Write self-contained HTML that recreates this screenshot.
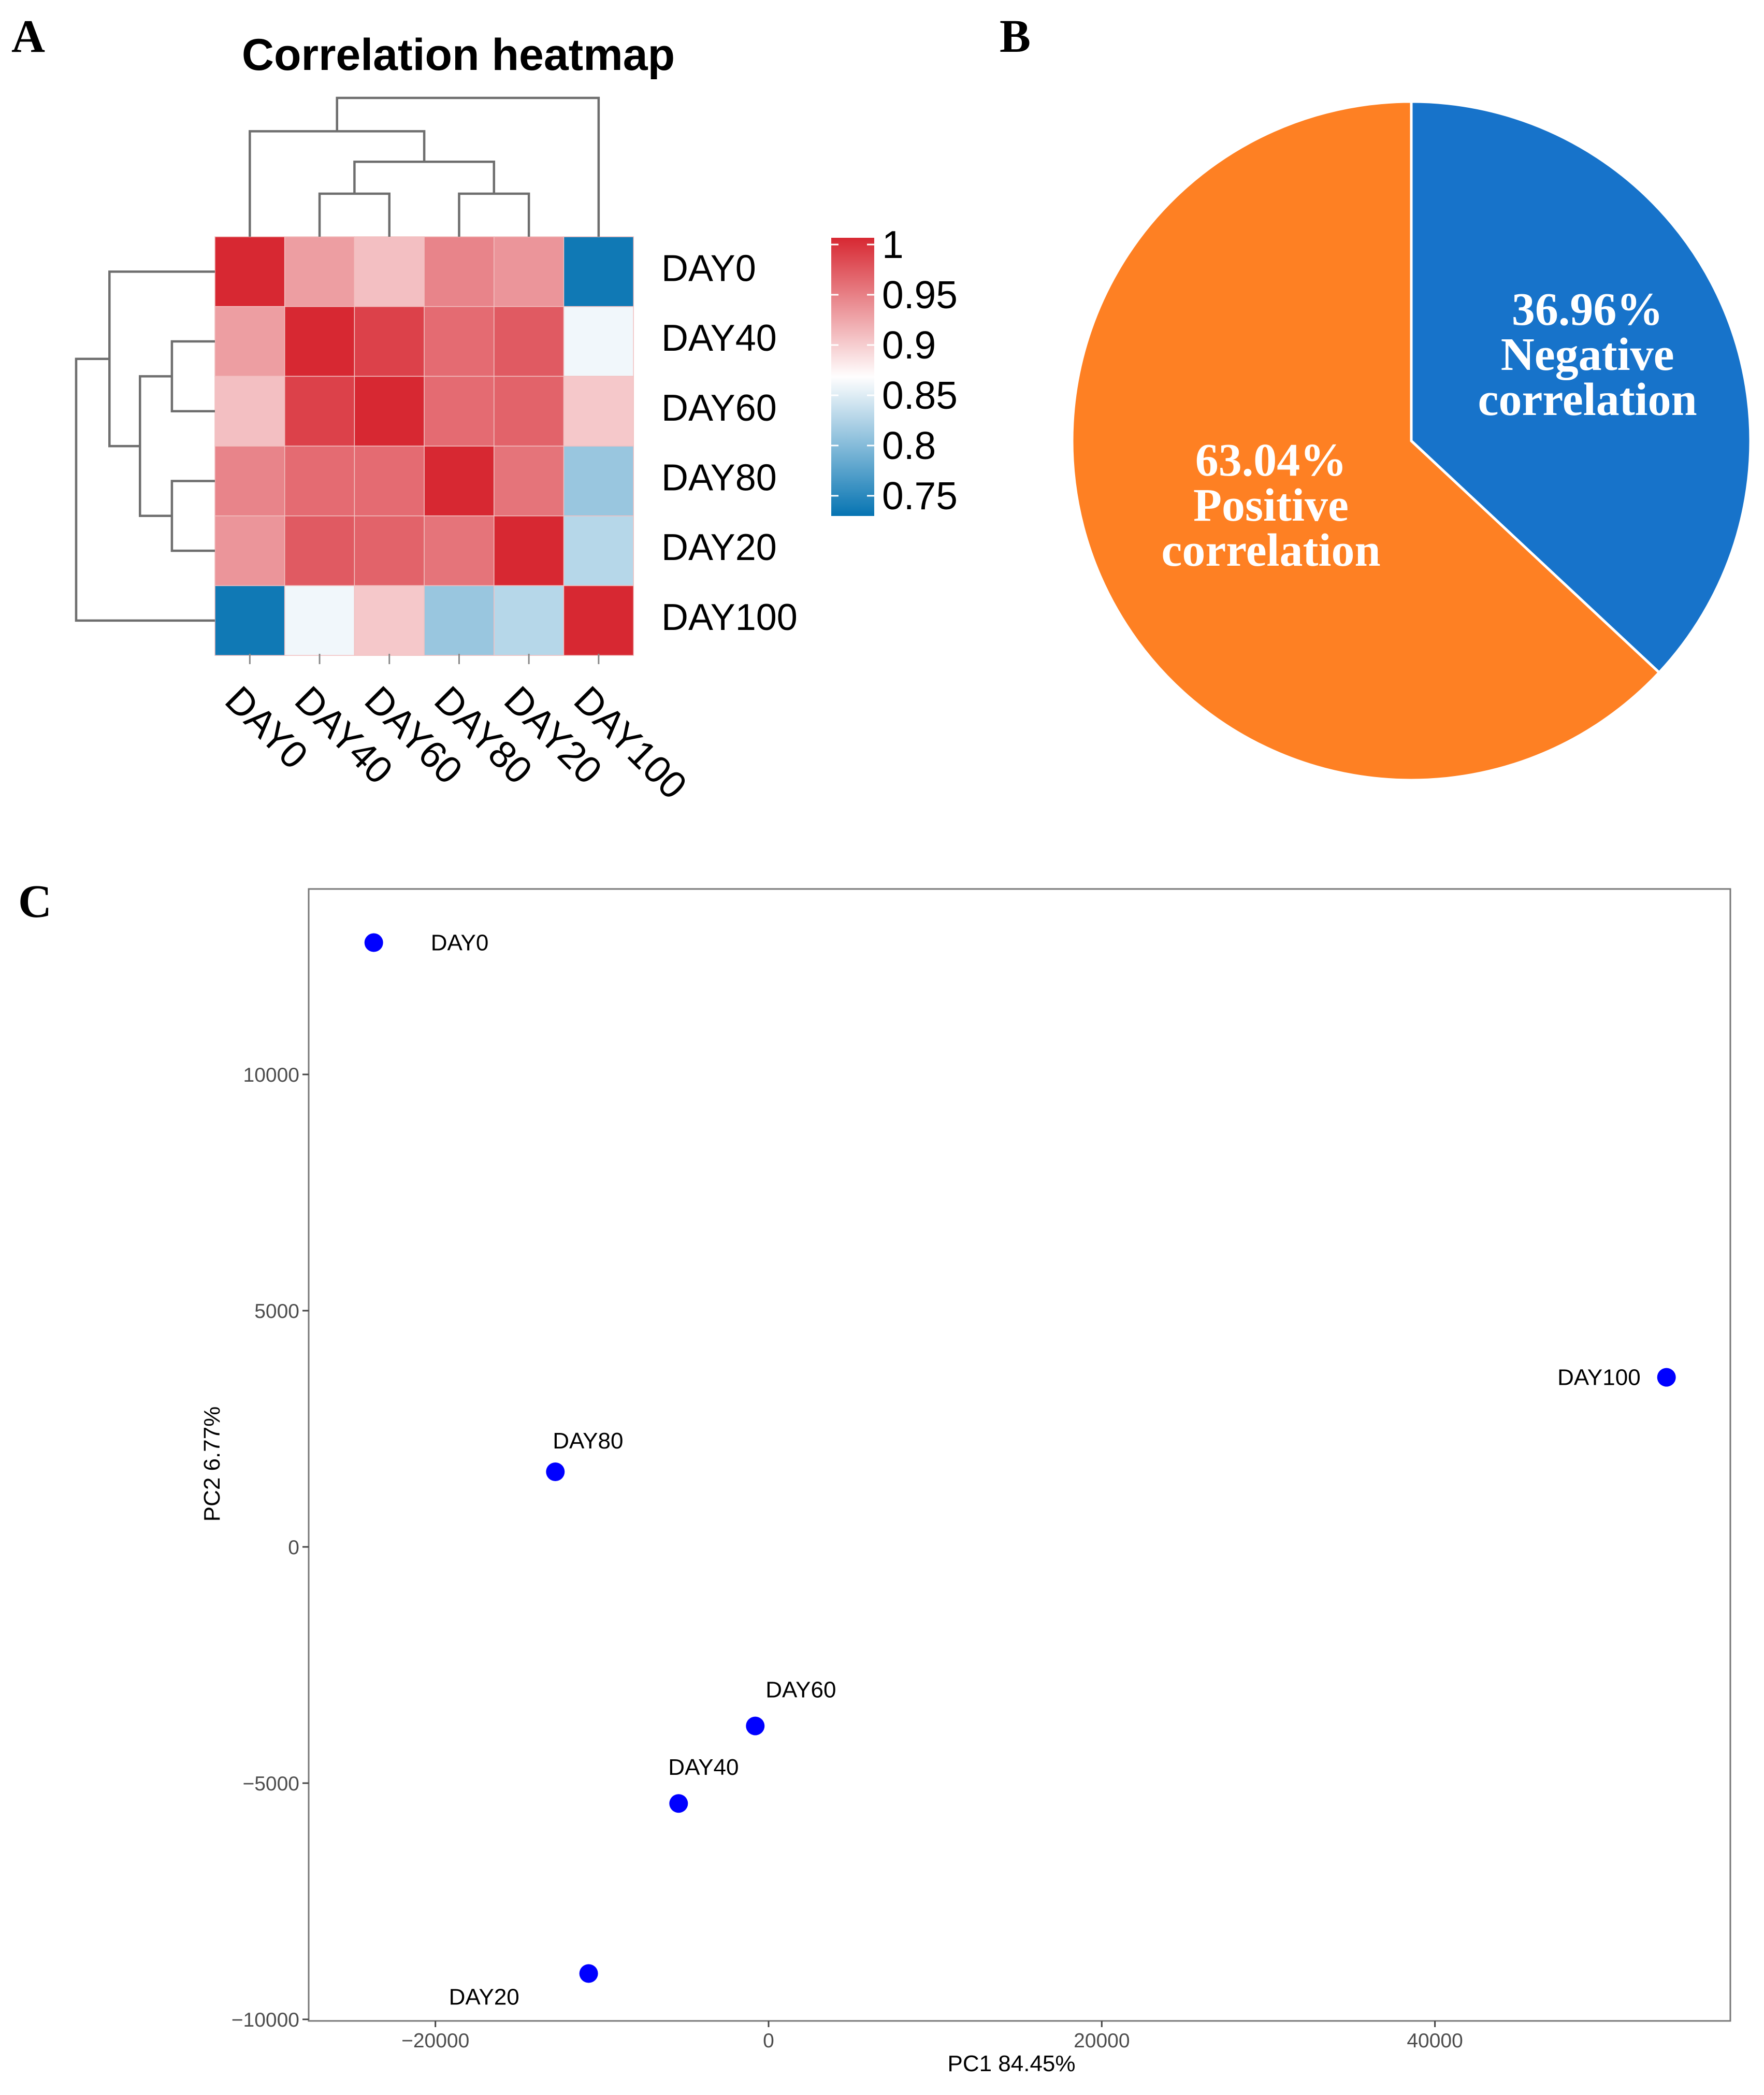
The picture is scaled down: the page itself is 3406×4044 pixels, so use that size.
<!DOCTYPE html>
<html><head><meta charset="utf-8">
<style>
html,body{margin:0;padding:0;background:#fff;}
svg{display:block;}
text{font-family:"Liberation Sans",sans-serif;}
.serif{font-family:"Liberation Serif",serif;font-weight:bold;}
</style></head>
<body>
<svg id="fig" width="3406" height="4044" viewBox="0 0 3406 4044" xmlns="http://www.w3.org/2000/svg">
<rect width="3406" height="4044" fill="#fff"/>
<text class="serif" x="22" y="100" font-size="90">A</text>
<text class="serif" x="1930" y="100" font-size="90">B</text>
<text class="serif" x="35" y="1770" font-size="90">C</text>
<text x="885" y="135" font-size="86" font-weight="bold" text-anchor="middle">Correlation heatmap</text>
<g id="heat"></g>
<g id="pie"></g>
<g id="pca"></g>
</svg>
<script>
const NS='http://www.w3.org/2000/svg';
function mk(tag,attrs,parent){const e=document.createElementNS(NS,tag);for(const k in attrs)e.setAttribute(k,attrs[k]);parent.appendChild(e);return e;}

// ---------- Heatmap data ----------
const samples=['DAY0','DAY40','DAY60','DAY80','DAY20','DAY100'];
const corrRow0=[1,0.93,0.91,0.945,0.935,0.75];
const corrRow1=[0.93,1,0.985,0.96,0.97,0.865];
const corrRow2=[0.91,0.985,1,0.96,0.965,0.905];
const corrRow3=[0.945,0.96,0.96,1,0.955,0.82];
const corrRow4=[0.935,0.97,0.965,0.955,1,0.835];
const corrRow5=[0.75,0.865,0.905,0.82,0.835,1];
const legendTicks=[1,0.95,0.9,0.85,0.8,0.75];
const merges=[[1,2,0.31],[3,4,0.31],['n0','n1',0.54],[0,'n2',0.76],['n3',5,1.0]];

const heat=document.getElementById('heat');
const hx0=415,hy0=457,cs=134.7,n=samples.length;
const vmin=0.745,vmid=0.872,vmax=1;
function lerp(a,b,t){return a+(b-a)*t;}
function colorOf(v){
  const blue=[6,116,178],white=[255,255,255],red=[215,40,50];
  let c;
  if(v<=vmid){const t=Math.max(0,(v-vmin)/(vmid-vmin));c=blue.map((b,i)=>lerp(b,white[i],t));}
  else{const t=Math.min(1,(v-vmid)/(vmax-vmid));c=white.map((w,i)=>lerp(w,red[i],t));}
  return 'rgb('+c.map(Math.round).join(',')+')';
}
const rows=[corrRow0,corrRow1,corrRow2,corrRow3,corrRow4,corrRow5];
rows.forEach((row,r)=>row.forEach((v,c)=>{
  const e=mk('rect',{x:hx0+c*cs,y:hy0+r*cs,width:cs,height:cs,fill:colorOf(v),stroke:'#f2c0c0','stroke-width':1.5},heat);
  
  
}));
samples.forEach((s,i)=>{
  const t=mk('text',{x:1277,y:hy0+(i+0.5)*cs+18,'font-size':72},heat);t.textContent=s;
  
  
  const cx=hx0+(i+0.5)*cs;
  const tk=mk('line',{x1:cx,y1:1262,x2:cx,y2:1282,stroke:'#888','stroke-width':3},heat);
  
  
  const ct=mk('text',{x:0,y:0,'font-size':74,transform:'translate('+(cx-14)+',1318) rotate(45)','dominant-baseline':'hanging'},heat);ct.textContent=s;
  
  
});
function dendro(orient){
  const pos={};const hgt={};
  samples.forEach((s,i)=>{pos[i]=(orient==='top'?hx0:hy0)+(i+0.5)*cs;hgt[i]=0;});
  const base=orient==='top'?hy0:hx0, span=268;
  merges.forEach((m,k)=>{
    const a=m[0],b=m[1],h=m[2];
    const pa=pos[a],pb=pos[b],ha=hgt[a],hb=hgt[b];
    const d=v=>base-v*span;
    let pts;
    if(orient==='top') pts=[[pa,d(ha)],[pa,d(h)],[pb,d(h)],[pb,d(hb)]];
    else pts=[[d(ha),pa],[d(h),pa],[d(h),pb],[d(hb),pb]];
    const e=mk('polyline',{points:pts.map(p=>p.join(',')).join(' '),fill:'none',stroke:'#6e6e6e','stroke-width':4.5},heat);
    
    
    pos['n'+k]=(pa+pb)/2;hgt['n'+k]=h;
  });
}
dendro('top');dendro('left');
const lgx=1605,lgw=83,lgTop=459,lgBot=996;
const defs=mk('defs',{},heat);
const grad=mk('linearGradient',{id:'lg',x1:0,y1:1,x2:0,y2:0},defs);
[0,0.25,0.5,0.75,1].forEach(f=>{const v=vmin+(vmax-vmin)*f;mk('stop',{offset:f,'stop-color':colorOf(v)},grad);});
const lgr=mk('rect',{x:lgx,y:lgTop,width:lgw,height:lgBot-lgTop,fill:'url(#lg)'},heat);


const ly=v=>957-(v-0.75)/0.25*(957-472);
legendTicks.forEach(v=>{
  const y=ly(v);
  mk('line',{x1:lgx,y1:y,x2:lgx+14,y2:y,stroke:'#fff','stroke-width':3},heat);
  mk('line',{x1:lgx+lgw-14,y1:y,x2:lgx+lgw,y2:y,stroke:'#fff','stroke-width':3},heat);
  const t=mk('text',{x:1703,y:y+26,'font-size':75},heat);t.textContent=String(v);
  
  
});

// ---------- Pie ----------
const pieLabels=['Negative correlation','Positive correlation'];
const pieValues=[36.96,63.04];
const pieColors=['#1773ca','#fe8023'];
const pie=document.getElementById('pie');
const pcx=2725,pcy=851,pr=655;
const lblRadius=[379,298];
const lblAngleShift=[-2.7,-1.1];
let acc=0;const tot=pieValues.reduce((a,b)=>a+b,0);
pieValues.forEach((v,i)=>{
  const a0=acc/tot*2*Math.PI, a1=(acc+v)/tot*2*Math.PI; acc+=v;
  const p=a=>[pcx+pr*Math.sin(a),pcy-pr*Math.cos(a)];
  const s=p(a0),e=p(a1);
  const d='M'+pcx+','+pcy+' L'+s.join(',')+' A'+pr+','+pr+' 0 '+((a1-a0)>Math.PI?1:0)+' 1 '+e.join(',')+' Z';
  const path=mk('path',{d:d,fill:pieColors[i],stroke:'#fff','stroke-width':5},pie);
  
  
  const am=(a0+a1)/2+lblAngleShift[i]*Math.PI/180, rr=lblRadius[i];
  const lx=pcx+rr*Math.sin(am), lyy=pcy-rr*Math.cos(am);
  const words=[v.toFixed(2)+'%'].concat(pieLabels[i].split(' '));
  words.forEach((w,k)=>{
    const t=mk('text',{x:lx,y:lyy+(k-1)*87+30,'font-size':90,fill:'#fff','text-anchor':'middle',class:'serif'},pie);
    t.textContent=w;
    
    
  });
});

// ---------- PCA ----------
const pcaNames=['DAY0','DAY80','DAY60','DAY40','DAY20','DAY100'];
const pc1=[-23700,-12800,-800,-5400,-10800,53900];
const pc2=[12790,1590,-3790,-5430,-9030,3590];
const xTicks=[-20000,0,20000,40000];
const yTicks=[10000,5000,0,-5000,-10000];
const pca=document.getElementById('pca');
const X=v=>1484+v/20000*643.3;
const Y=v=>2986-v/5000*456;
const frame=mk('rect',{x:596,y:1716,width:2745,height:2185,fill:'none',stroke:'#777','stroke-width':3},pca);


yTicks.forEach(v=>{
  const y=Y(v);
  mk('line',{x1:584,y1:y,x2:596,y2:y,stroke:'#444','stroke-width':3},pca);
  const t=mk('text',{x:578,y:y+14,'font-size':39,'text-anchor':'end',fill:'#4d4d4d'},pca);
  t.textContent=v<0?'\u2212'+Math.abs(v):String(v);
  
  
});
xTicks.forEach(v=>{
  const x=X(v);
  mk('line',{x1:x,y1:3901,x2:x,y2:3913,stroke:'#444','stroke-width':3},pca);
  const t=mk('text',{x:x,y:3952,'font-size':39,'text-anchor':'middle',fill:'#4d4d4d'},pca);
  t.textContent=v<0?'\u2212'+Math.abs(v):String(v);
  
  
});
const xt=mk('text',{x:1953,y:3998,'font-size':44,'text-anchor':'middle'},pca);xt.textContent='PC1 84.45%';


const yt=mk('text',{x:0,y:0,'font-size':44,'text-anchor':'middle',transform:'translate(424,2826) rotate(-90)'},pca);yt.textContent='PC2 6.77%';


const lblDx=[110,-5,20,-20,-270,-50];
const lblDy=[15,-45,-55,-55,60,15];
const lblAnchor=['start','start','start','start','start','end'];
pcaNames.forEach((nm,i)=>{
  const c=mk('circle',{cx:X(pc1[i]),cy:Y(pc2[i]),r:18,fill:'#0000ff'},pca);
  
  
  const t=mk('text',{x:X(pc1[i])+lblDx[i],y:Y(pc2[i])+lblDy[i],'font-size':44,'text-anchor':lblAnchor[i]},pca);
  t.textContent=nm;
  
  
});
</script>
</body></html>
